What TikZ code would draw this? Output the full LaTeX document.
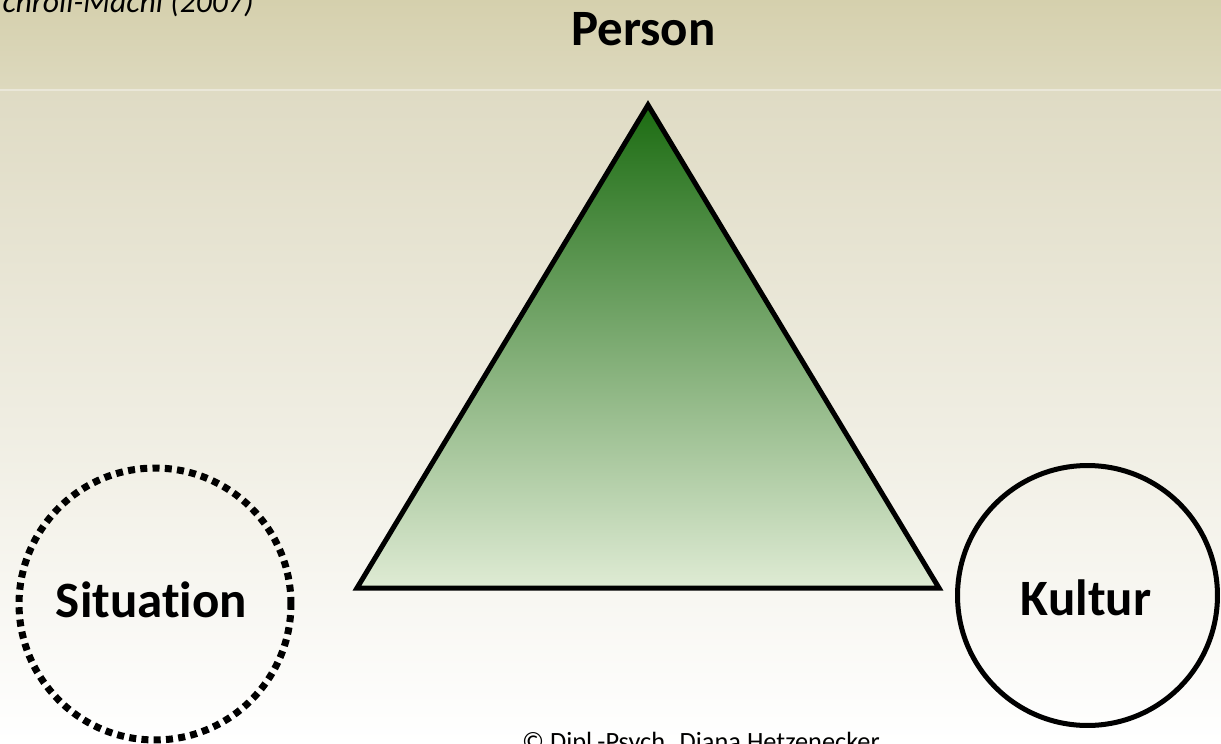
\documentclass[tikz,border=0pt]{standalone}
\usepackage{fontspec}
\setmainfont[Ligatures=NoCommon]{Carlito}
\definecolor{bandTop}{RGB}{213,208,173}
\definecolor{bandBottom}{RGB}{221,217,190}
\definecolor{bandLine}{RGB}{234,231,217}
\definecolor{pageTop}{RGB}{223,219,196}
\definecolor{pageMid}{RGB}{241,239,229}
\definecolor{triTop}{RGB}{28,108,18}
\definecolor{triMid}{RGB}{128,174,98}
\definecolor{triBottom}{RGB}{223,235,212}

\begin{document}
\begin{tikzpicture}[x=0.02cm, y=-0.02cm,
  big/.style={font=\fontsize{29}{34}\selectfont\bfseries, inner sep=0pt},
  ring/.style={circle, draw, inner sep=0pt}
]
  \useasboundingbox (0,0) rectangle (1221,744);
  \clip (0,0) rectangle (1221,744);
  \shade[top color=bandTop, bottom color=bandBottom] (0,0) rectangle (1221,90);
  \shade[top color=pageTop, middle color=pageMid, bottom color=white] (0,90) rectangle (1221,744);
  \draw[bandLine, line width=0.6pt] (0,90) -- (1221,90);

  \node[font=\fontsize{18}{22}\selectfont\itshape, inner sep=0pt, anchor=base east] (source) at (254,12) {chroll-Machl (2007)};
  \node[big, anchor=base] (person) at (643.5,45) {Person};

  \coordinate (apex) at (648,105);
  \coordinate (left) at (357,588);
  \coordinate (right) at (939,588);
  \path[draw, line width=2.85pt, top color=triTop, middle color=triMid, bottom color=triBottom]
    (apex) -- (left) -- (right) -- cycle;

  \node[ring, line width=4pt, dash pattern=on 4pt off 3pt, minimum size=5.44cm] (situation) at (155,604) {};
  \node[big, anchor=base] (situationText) at (151.5,617) {Situation};
  \node[ring, line width=2.85pt, minimum size=5.2cm] (kultur) at (1087.5,595.5) {};
  \node[big, anchor=base] (kulturText) at (1086,615) {Kultur};

  \node[font=\fontsize{15}{18}\selectfont, inner sep=0pt, anchor=base] (copy) at (701,750) {© Dipl.-Psych. Diana Hetzenecker};
\end{tikzpicture}
\end{document}
